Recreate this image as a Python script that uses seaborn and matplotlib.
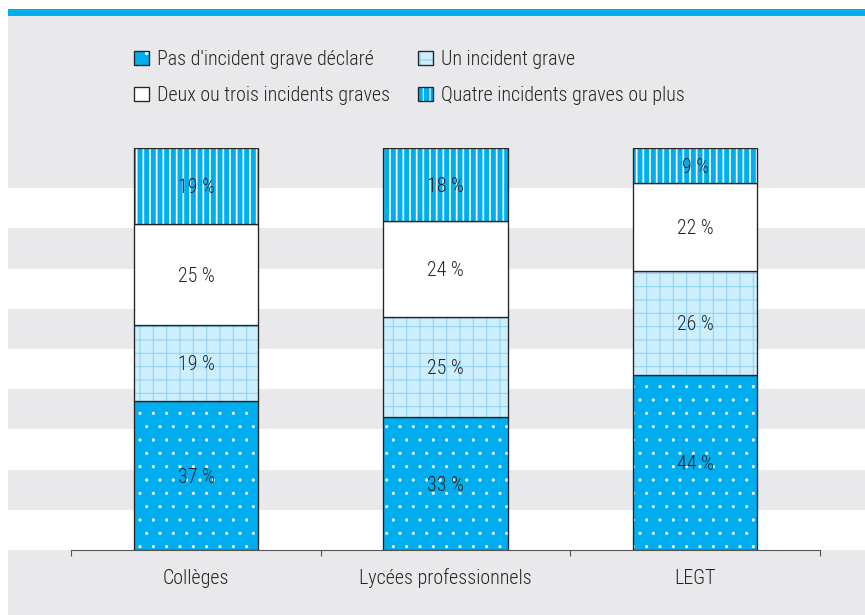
import matplotlib
matplotlib.use("Agg")
import matplotlib.pyplot as plt
from matplotlib.patches import Rectangle, Patch
import seaborn as sns

# --- data (share of establishments, %) ---
categories = ["Collèges", "Lycées professionnels", "LEGT"]
series = ["Pas d'incident grave déclaré", "Un incident grave",
          "Deux ou trois incidents graves", "Quatre incidents graves ou plus"]
pas_incident = [37.1, 33.1, 43.6]
un_incident = [18.9, 24.9, 25.9]
deux_trois = [25.1, 23.9, 21.7]
quatre_plus = [18.9, 18.1, 8.8]
values = [pas_incident, un_incident, deux_trois, quatre_plus]

# fill styles: (facecolor, hatch, hatch colour, hatch linewidth)
styles = [("#00aeef", ".", "white", 0.4),
          ("#cdeefc", "+", "#8ed3f2", 0.9),
          ("white", "", "white", 1.0),
          ("#00aeef", "||", "white", 1.5)]

GRAY = "#e9e9eb"
BLUE = "#00aeef"
DARK = "#252525"
FS = 18

sns.set_style("white")
plt.rcParams["font.family"] = ["Roboto Condensed", "DejaVu Sans"]
plt.rcParams["font.weight"] = "light"

W, H, DPI = 865, 615, 80
fig = plt.figure(figsize=(W / DPI, H / DPI), dpi=DPI, facecolor="white")

# grey panel and blue top rule
fig.patches.append(Rectangle((8 / W, 0), 857 / W, (H - 16) / H, transform=fig.transFigure,
                             facecolor=GRAY, edgecolor="none", zorder=-10))
fig.patches.append(Rectangle((8 / W, (H - 16) / H), 857 / W, 7 / H, transform=fig.transFigure,
                             facecolor=BLUE, edgecolor="none", zorder=-10))

ax = fig.add_axes([8 / W, 65 / H, 857 / W, 402 / H])
ax.set_facecolor("none")

# alternating white bands behind the bars
for lo in range(0, 100, 20):
    ax.axhspan(lo, lo + 10, color="white", zorder=0, lw=0)

bottom = [0, 0, 0]
for vals, (face, hatch, hc, hlw) in zip(values, styles):
    with plt.rc_context({"hatch.linewidth": hlw}):
        sns.barplot(x=categories, y=vals, bottom=bottom, width=0.5, errorbar=None,
                    color=face, saturation=1, facecolor=face, edgecolor=hc,
                    hatch=hatch, linewidth=0, ax=ax)
    sns.barplot(x=categories, y=vals, bottom=bottom, width=0.5, errorbar=None,
                color=DARK, saturation=1, facecolor="none", edgecolor=DARK,
                linewidth=1.2, ax=ax)
    for i, v in enumerate(vals):
        ax.text(i, bottom[i] + v / 2, f"{round(v)} %", ha="center", va="center_baseline",
                color=DARK, fontsize=FS)
    bottom = [b + v for b, v in zip(bottom, vals)]

ax.set_xlim(-0.7535, 2.681)
ax.set_ylim(0, 100)
ax.set_yticks([])
ax.set_ylabel("")
ax.set_xlabel("")
ax.set_xticks([0, 1, 2], categories, fontsize=FS, color=DARK)
for lab in ax.get_xticklabels():
    lab.set_verticalalignment("baseline")
ax.set_xticks([-0.5, 0.5, 1.5, 2.5], minor=True)
ax.tick_params(axis="x", which="major", length=0, pad=31)
ax.tick_params(axis="x", which="minor", length=5.5, width=1, color="#555555", direction="out", bottom=True)
for s in ["left", "right", "top"]:
    ax.spines[s].set_visible(False)
ax.spines["bottom"].set_bounds(-0.5, 2.5)
ax.spines["bottom"].set_color("#555555")
ax.spines["bottom"].set_linewidth(1)

# legend: hatch patch + dark outline overlaid
handles = []
for face, hatch, hc, hlw in styles:
    with plt.rc_context({"hatch.linewidth": hlw}):
        handles.append((Patch(facecolor=face, edgecolor=hc, hatch=hatch, lw=0),
                        Patch(facecolor="none", edgecolor=DARK, lw=1.2)))
order = [0, 2, 1, 3]
fig.legend([handles[i] for i in order], [series[i] for i in order], ncol=2,
           loc="upper left", bbox_to_anchor=(134 / W, 1 - 50 / H), frameon=False,
           fontsize=FS, handlelength=0.75, handleheight=0.75, handletextpad=0.4,
           columnspacing=1.4, labelspacing=0.85, borderpad=0, borderaxespad=0,
           labelcolor=DARK)

fig.savefig("out.png", dpi=DPI, facecolor="white")
